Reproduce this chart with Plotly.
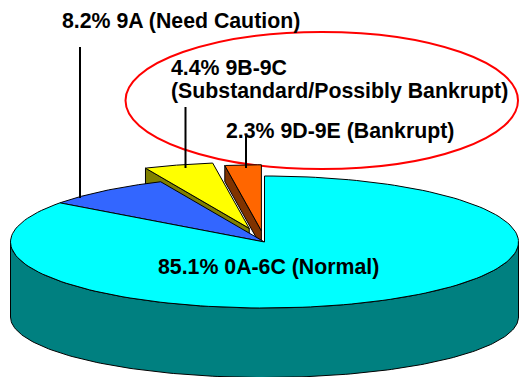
import numpy as np
import plotly.graph_objects as go

# Loan classification shares, clockwise from twelve o'clock
categories = ["0A-6C (Normal)", "9A (Need Caution)", "9B-9C (Substandard/Possibly Bankrupt)", "9D-9E (Bankrupt)"]
shares = [85.1, 8.2, 4.4, 2.3]
explode = [0.0, 0.0, 0.215, 0.17]
top_colors = ["#00FFFF", "#3366FF", "#FFFF00", "#FF6600"]
side_colors = ["#008080", "#1A3380", "#808000", "#803300"]

# Tilted-disc projection, in pixels of the 519x377 canvas
CX, CY = 264.5, 242.0
RX, RY = 254.0, 66.0
BOTTOM_RY = 60.5
DEPTH = 75.0
WEDGE_DEPTH = 16.0
FONT = "Liberation Sans"
FONT_SIZE = 21.3

fractions = np.cumsum([0.0] + shares) / sum(shares)


def rim(start, end, cx, cy, rx=RX, ry=RY, n=160):
    """Points on an ellipse between two pie fractions (clockwise from the top)."""
    t = 2 * np.pi * np.linspace(start, end, n)
    return cx + rx * np.sin(t), cy - ry * np.cos(t)


def wedge_top(i):
    s, e = fractions[i], fractions[i + 1]
    mid = 2 * np.pi * (s + e) / 2
    ax = CX + explode[i] * RX * np.sin(mid)
    ay = CY - explode[i] * RY * np.cos(mid)
    x, y = rim(s, e, ax, ay)
    return np.r_[ax, x, ax], np.r_[ay, y, ay]


def wedge_wall(i):
    # Inner cut face of an exploded slice, hanging below its leading edge
    x, y = wedge_top(i)
    ax, ay, px, py = x[0], y[0], x[1], y[1]
    return [px, ax, ax, px, px], [py, ay, ay + WEDGE_DEPTH, py + WEDGE_DEPTH, py]


def poly(x, y, color, width=1.0):
    return go.Scatter(x=x, y=y, mode="lines", fill="toself", fillcolor=color,
                      line=dict(color="#000000", width=width),
                      hoverinfo="skip", showlegend=False)


fig = go.Figure()

# Back to front: exploded slices, then the main disc
for i in (2, 3):
    fig.add_trace(poly(*wedge_wall(i), side_colors[i]))
for i in (2, 3):
    fig.add_trace(poly(*wedge_top(i), top_colors[i]))

# Outer wall of the large slice along the front half of the rim
fx, fy = rim(0.25, 0.75, CX, CY)
bx, by = rim(0.75, 0.25, CX, CY + DEPTH, ry=BOTTOM_RY)
fig.add_trace(poly(np.r_[fx, bx, fx[0]], np.r_[fy, by, fy[0]], side_colors[0]))

for i in (1, 0):
    fig.add_trace(poly(*wedge_top(i), top_colors[i]))

# Leader lines from the labels down to their slices
leaders = [(80, 47, 198), (185.5, 107, 168), (246, 136, 168)]
for lx, y0, y1 in leaders:
    fig.add_trace(go.Scatter(x=[lx, lx], y=[y0, y1], mode="lines",
                             line=dict(color="#000000", width=2),
                             hoverinfo="skip", showlegend=False))

# Each row: text, left edge, vertical centre
label_rows = [
    (f"{shares[1]}% 9A (Need Caution)", 61, 21),
    (f"{shares[2]}% 9B-9C", 170, 68),
    ("(Substandard/Possibly Bankrupt)", 170, 91),
    (f"{shares[3]}% 9D-9E (Bankrupt)", 225, 131),
    (f"{shares[0]}% 0A-6C (Normal)", 157, 267),
]
annotations = [
    dict(x=x, y=y, text=f"<b>{t}</b>", xref="x", yref="y", xanchor="left", yanchor="middle",
         showarrow=False, borderpad=0, font=dict(family=FONT, size=FONT_SIZE, color="#000000"))
    for t, x, y in label_rows
]

fig.update_layout(
    width=519, height=377, margin=dict(l=0, r=0, t=0, b=0),
    paper_bgcolor="#FFFFFF", plot_bgcolor="#FFFFFF",
    xaxis=dict(range=[0, 519], visible=False, fixedrange=True),
    yaxis=dict(range=[377, 0], visible=False, fixedrange=True),
    annotations=annotations,
    shapes=[dict(type="circle", xref="x", yref="y", x0=125.5, x1=518, y0=32, y1=169,
                 line=dict(color="#FF0000", width=2), fillcolor="rgba(0,0,0,0)", layer="below")],
)

fig.write_html("out.html", config={"displayModeBar": False})
